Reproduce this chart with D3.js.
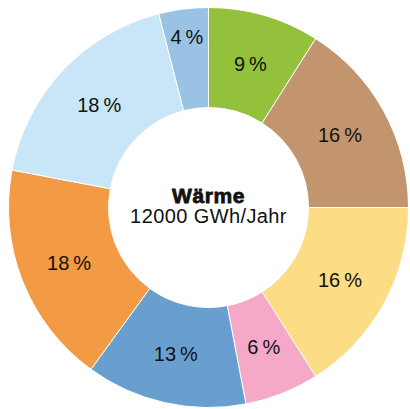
<!DOCTYPE html>
<html>
<head>
	<script src="https://d3js.org/d3.v7.min.js"></script>
	<style>
		body { margin: 0; background: #fff; }
		text { font-family: "Liberation Sans", Arial, sans-serif; fill: #111; }
	</style>
</head>
<body>
	<div id="chart"></div>
	<script>
		// data, clockwise from 12 o'clock
		var categories = ["a", "b", "c", "d", "e", "f", "g", "h"];
		var shares = [9, 16, 16, 6, 13, 18, 18, 4];
		var colors = ["#93c13b", "#c3956e", "#fddc86", "#f5a8c7", "#699fcf", "#f39a44", "#c8e6f7", "#9ac2e4"];
		var title = "Wärme";
		var subtitle = "12000 GWh/Jahr";

		var w = 410, h = 409;
		var cx = 208.5, cy = 207.5, rOut = 200, rIn = 100;

		var svg = d3.select("#chart").append("svg")
			.attr("width", w)
			.attr("height", h);

		var g = svg.append("g").attr("transform", "translate(" + cx + "," + cy + ")");

		var pie = d3.pie().sort(null).value(function(d, i) { return shares[i]; });
		var arc = d3.arc().innerRadius(rIn).outerRadius(rOut);

		var arcs = pie(categories);

		g.selectAll("path")
			.data(arcs)
			.enter()
			.append("path")
			.attr("d", arc)
			.attr("fill", function(d, i) { return colors[i]; })
			.attr("stroke", "#fff")
			.attr("stroke-width", 1);

		// labels sit mid-ring; tiny slices are pushed outward
		g.selectAll("text.lbl")
			.data(arcs)
			.enter()
			.append("text")
			.attr("class", "lbl")
			.attr("transform", function(d, i) {
				var r = shares[i] < 5 ? 172 : 150;
				var p = d3.arc().innerRadius(r).outerRadius(r).centroid(d);
				return "translate(" + p[0] + "," + p[1] + ")";
			})
			.attr("text-anchor", "middle")
			.attr("dy", "0.36em")
			.style("font-size", "20px")
			.text(function(d, i) { return shares[i] + "\u2009%"; });

		// centre text
		g.append("text")
			.attr("text-anchor", "middle")
			.attr("y", -5)
			.style("font-size", "21px")
			.style("font-weight", "bold")
			.style("stroke", "#111")
			.style("stroke-width", "0.8px")
			.style("letter-spacing", "0.6px")
			.text(title);

		g.append("text")
			.attr("text-anchor", "middle")
			.attr("y", 15.5)
			.style("font-size", "20px")
			.style("letter-spacing", "0.4px")
			.text(subtitle);
	</script>
</body>
</html>
